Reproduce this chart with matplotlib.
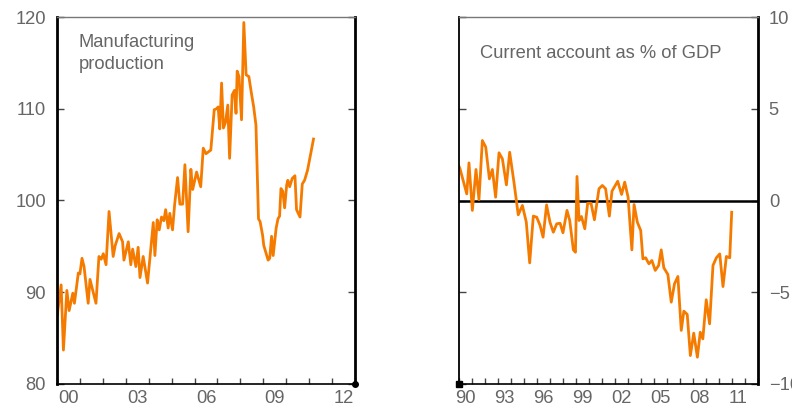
import matplotlib
matplotlib.use("Agg")
import matplotlib.pyplot as plt
import numpy as np

plt.rcParams['font.family'] = ['Liberation Sans', 'DejaVu Sans']

# ---- Manufacturing production (left panel) ----
mfg_years = [2000.0, 2000.01, 2000.18, 2000.28, 2000.43, 2000.53, 2000.69, 2000.76, 2000.93, 2001.0,
             2001.09, 2001.18, 2001.36, 2001.44, 2001.7, 2001.83, 2001.93, 2002.02, 2002.14, 2002.27,
             2002.45, 2002.54, 2002.71, 2002.86, 2002.92, 2003.11, 2003.22, 2003.3, 2003.44, 2003.54,
             2003.62, 2003.76, 2003.95, 2004.2, 2004.27, 2004.37, 2004.46, 2004.56, 2004.66, 2004.74,
             2004.85, 2004.92, 2005.04, 2005.13, 2005.26, 2005.36, 2005.48, 2005.58, 2005.72, 2005.84,
             2005.92, 2006.09, 2006.27, 2006.38, 2006.5, 2006.71, 2006.86, 2006.96, 2007.03, 2007.1,
             2007.18, 2007.26, 2007.35, 2007.45, 2007.53, 2007.64, 2007.74, 2007.81, 2007.86, 2007.94,
             2008.05, 2008.15, 2008.25, 2008.37, 2008.48, 2008.58, 2008.68, 2008.79, 2008.86, 2008.97,
             2009.02, 2009.21, 2009.28, 2009.36, 2009.43, 2009.56, 2009.64, 2009.71, 2009.77, 2009.85,
             2009.93, 2010.02, 2010.07, 2010.15, 2010.26, 2010.38, 2010.45, 2010.6, 2010.7, 2010.8,
             2010.93, 2011.19]
mfg_values = [88.6, 87.5, 90.8, 83.7, 90.2, 88.0, 89.9, 88.8, 92.1, 92.0,
              93.7, 92.8, 88.8, 91.4, 88.8, 93.9, 93.6, 94.2, 93.0, 98.8,
              93.9, 95.1, 96.4, 95.5, 93.5, 95.5, 93.0, 94.7, 92.8, 94.9,
              91.6, 93.9, 91.0, 97.6, 94.0, 97.9, 96.8, 98.2, 97.8, 99.0,
              97.0, 98.6, 96.8, 99.5, 102.5, 99.6, 99.6, 103.9, 96.6, 103.4,
              101.2, 103.1, 101.5, 105.7, 105.1, 105.5, 109.9, 110.0, 110.2, 107.8,
              112.8, 107.9, 108.5, 110.4, 104.6, 111.5, 112.0, 109.5, 114.1, 113.5,
              108.8, 119.4, 113.7, 113.5, 111.7, 110.2, 108.2, 98.0, 97.7, 96.2,
              95.1, 93.5, 93.7, 96.1, 94.0, 97.0, 98.0, 98.3, 101.3, 101.0,
              99.2, 101.7, 102.2, 101.5, 102.4, 102.7, 99.0, 98.2, 101.8, 102.2,
              103.3, 106.7]

mfg_xlabels = ['00', '03', '06', '09', '12']
mfg_xlabel_years = [2000, 2003, 2006, 2009, 2012]
mfg_yticks = [80, 90, 100, 110, 120]

# ---- Current account as % of GDP (right panel) ----
ca_years = [1990.0, 1990.1, 1990.62, 1990.79, 1991.05, 1991.33, 1991.56, 1991.82, 1992.08, 1992.36,
            1992.59, 1992.84, 1993.1, 1993.36, 1993.67, 1993.92, 1994.25, 1994.58, 1994.9, 1995.2,
            1995.46, 1995.74, 1996.0, 1996.26, 1996.49, 1996.76, 1997.02, 1997.28, 1997.54, 1997.8,
            1998.02, 1998.33, 1998.54, 1998.82, 1998.98, 1999.1, 1999.26, 1999.44, 1999.7, 1999.92,
            2000.18, 2000.44, 2000.79, 2001.05, 2001.3, 2001.59, 2001.79, 2002.23, 2002.53, 2002.77,
            2003.03, 2003.32, 2003.49, 2003.74, 2004.0, 2004.17, 2004.38, 2004.63, 2004.86, 2005.12,
            2005.38, 2005.58, 2005.78, 2006.09, 2006.35, 2006.6, 2006.86, 2007.12, 2007.32, 2007.58,
            2007.82, 2008.08, 2008.36, 2008.58, 2008.78, 2009.04, 2009.3, 2009.56, 2009.82, 2010.08,
            2010.33, 2010.59, 2010.85, 2011.0]
ca_values = [1.9, 1.73, 0.36, 2.05, -0.54, 1.69, 0.05, 3.27, 2.91, 1.18,
             1.69, 0.18, 2.6, 2.27, 0.85, 2.63, 1.0, -0.78, -0.27, -1.18,
             -3.4, -0.85, -0.91, -1.36, -2.0, -0.24, -1.18, -1.73, -1.27, -1.24,
             -1.76, -0.54, -1.09, -2.69, -2.82, 1.31, -1.09, -0.87, -1.54, -0.15,
             -0.15, -1.05, 0.64, 0.82, 0.64, -0.85, 0.51, 1.05, 0.33, 1.0,
             0.18, -2.69, -0.22, -1.18, -1.63, -3.18, -3.12, -3.45, -3.27, -3.81,
             -3.54, -2.69, -3.67, -4.03, -5.54, -4.54, -4.14, -7.08, -6.03, -6.21,
             -8.45, -7.23, -8.54, -7.18, -7.54, -5.41, -6.72, -3.54, -3.12, -2.91,
             -4.69, -3.05, -3.12, -0.64]

ca_xlabels = ['90', '93', '96', '99', '02', '05', '08', '11']
ca_xlabel_years = [1990, 1993, 1996, 1999, 2002, 2005, 2008, 2011]
ca_yticks = [-10, -5, 0, 5, 10]

ORANGE = '#F57B00'
GRAY = '#666666'
FS = 13.2

fig = plt.figure(figsize=(7.92, 4.07), dpi=100)
axL = fig.add_axes([57 / 792, 23 / 407, 298 / 792, 367 / 407])
axR = fig.add_axes([458.7 / 792, 23 / 407, 299 / 792, 367 / 407])


def style(ax, x0, x1, label_years, labels, yticks, ylim, left_labels, thick_left):
    ax.set_xlim(x0, x1)
    ax.set_ylim(*ylim)
    ax.set_xticks(np.arange(x0, x1 + 1, 1))
    ax.set_xticks([y + 0.5 for y in label_years], minor=True)
    ax.set_xticklabels([], minor=False)
    ax.set_xticklabels(labels, minor=True)
    ax.tick_params(axis='x', which='major', direction='in', length=4, width=1, color='#444444',
                   labelbottom=False)
    ax.tick_params(axis='x', which='minor', length=0, pad=4, labelsize=FS, labelcolor=GRAY)
    ax.set_yticks(yticks)
    ax.tick_params(axis='y', which='major', direction='in', length=5, width=1, color='#444444',
                   left=True, right=True, labelleft=left_labels, labelright=not left_labels,
                   labelsize=FS, labelcolor=GRAY, pad=8)
    for s in ['left', 'right', 'bottom']:
        ax.spines[s].set_color('black')
    ax.spines['top'].set_color('#777777')
    ax.spines['top'].set_linewidth(1.0)
    ax.spines['bottom'].set_linewidth(1.2)
    ax.spines['right'].set_linewidth(2.0)
    ax.spines['left'].set_linewidth(2.0 if thick_left else 1.3)


axL.plot(mfg_years, mfg_values, color=ORANGE, lw=2.0, solid_joinstyle='round')
style(axL, 2000, 2013, mfg_xlabel_years, mfg_xlabels, mfg_yticks, (80, 120), True, True)
axL.text(0.072, 0.955, 'Manufacturing\nproduction', transform=axL.transAxes, ha='left', va='top',
         fontsize=FS, color=GRAY, linespacing=1.45)
axL.plot([1], [0], marker='o', ms=4, color='black', transform=axL.transAxes, clip_on=False)

axR.axhline(0, color='black', lw=1.8)
axR.plot(ca_years, ca_values, color=ORANGE, lw=2.0, solid_joinstyle='round')
style(axR, 1990, 2013, ca_xlabel_years, ca_xlabels, ca_yticks, (-10, 10), False, False)
axR.text(0.072, 0.9, 'Current account as % of GDP', transform=axR.transAxes, ha='left', va='center',
         fontsize=FS, color=GRAY)
axR.plot([0], [0], marker='s', ms=4, color='black', transform=axR.transAxes, clip_on=False)

fig.savefig('out.png', dpi=100)
